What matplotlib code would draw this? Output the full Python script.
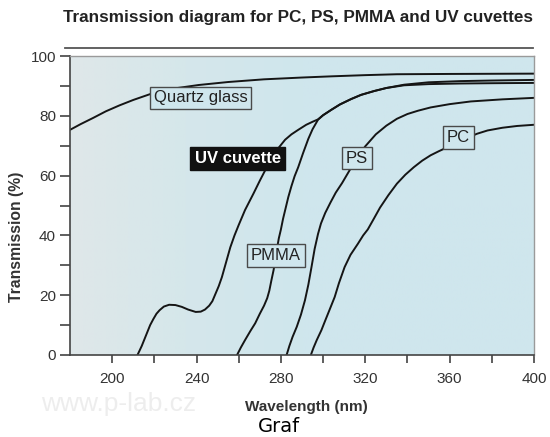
import matplotlib
matplotlib.use("Agg")

import matplotlib.pyplot as plt
import numpy as np
from matplotlib.colors import LinearSegmentedColormap

plt.rcParams["font.family"] = ["Liberation Sans", "DejaVu Sans"]

# valeurs (nm, %)
quartz_nm = [180, 185, 191, 197, 203.5, 210, 219, 230, 241, 255, 272, 290, 304, 320, 335, 360, 400]
quartz_t = [75.3, 77.2, 79.3, 81.5, 83.5, 85.3, 87.5, 89.2, 90.3, 91.3, 92.2, 92.8, 93.2, 93.6, 93.9, 94, 94.1]

uv_nm = [212, 214, 216, 218, 219.5, 221, 222.5, 224.5, 227, 230, 233, 236, 239.6, 242, 244, 246,
         247.5, 249, 250.5, 252, 254, 256, 258, 260, 263, 267, 270, 273.3, 276, 278.8, 282, 285,
         288.2, 292, 295, 297.6, 300, 303.9, 308, 313.3, 318, 324.3, 330, 338.4, 350, 365, 380, 400]
uv_t = [0, 3, 6.5, 10, 12, 13.8, 15, 16.2, 16.8, 16.7, 16.1, 15.2, 14.4, 14.5, 15.2, 16.5,
        18, 20.5, 23, 26, 31, 36, 40, 43.5, 48.5, 54, 58.3, 62.8, 66.3, 69.2, 72, 73.8,
        75.3, 77, 78, 78.8, 80.2, 82, 83.8, 85.6, 87, 88.3, 89.3, 90.4, 91.2, 91.6, 91.8, 92]

pmma_nm = [259.2, 261, 263, 265.5, 267.8, 270, 272, 273.5, 274.5, 275.5, 276.5, 277.3, 278, 279,
           280, 281, 282.2, 283.5, 285, 286.5, 288.2, 290.5, 293, 295, 297.6, 300, 303.9, 308,
           313.3, 318, 324.3, 330, 338.4, 350, 365, 380, 400]
pmma_t = [0, 2.5, 5, 8, 10.6, 13.8, 16.5, 19, 21.5, 25, 28.3, 31.5, 35, 39,
          42, 45.5, 49, 52.8, 56.5, 59.8, 62.8, 67.5, 72.3, 75.5, 78.7, 80.2, 82, 83.8,
          85.6, 87, 88.3, 89.3, 90.2, 90.6, 90.8, 90.9, 91]

ps_nm = [282.7, 284, 285.5, 287.5, 289.5, 291.4, 293, 294.5, 296, 297.6, 299, 301, 303.5, 306,
         309, 313, 316, 320, 325, 330, 335, 340, 345, 351, 360, 370, 385, 400]
ps_t = [0, 3, 6, 9.4, 13.5, 18.3, 23.5, 29.4, 35.5, 40.5, 44, 47.5, 51, 54.3,
        57.5, 62.3, 66, 69.8, 73.8, 76.7, 79, 80.6, 81.7, 82.8, 83.9, 84.8, 85.5, 86]

pc_nm = [294.2, 295.5, 297, 299.2, 301, 303, 305.5, 307.5, 310.2, 313, 316.5, 319, 321.2, 324,
         327, 331, 335, 339, 343, 347, 351, 355, 359, 363, 368, 373, 378, 385, 392, 400]
pc_t = [0, 2.5, 5, 8.3, 11.5, 15, 19.4, 24, 29.4, 33.5, 37.2, 40, 42, 45.5,
        49.3, 53.5, 57.3, 60.3, 62.8, 65, 66.8, 68.2, 69.5, 70.8, 72.5, 74, 75.1, 76, 76.6, 77]

x_ticks = [200, 240, 280, 320, 360, 400]
y_ticks = [0, 20, 40, 60, 80, 100]

fond = "#cfe6ed"
gris = "#333333"

fig = plt.figure(figsize=(5.5, 4.37), dpi=100)
ax = fig.add_axes([70 / 550, 82 / 437, 464 / 550, 299 / 437])

# fond bleu clair, plus pâle à gauche
cmap = LinearSegmentedColormap.from_list("fond", ["#dfe7e9", "#d5e7eb", fond, fond, fond])
ax.imshow(np.linspace(0, 1, 256).reshape(1, -1), cmap=cmap, aspect="auto",
          extent=[180, 400, 0, 100], zorder=0)

for x, y in [(quartz_nm, quartz_t), (uv_nm, uv_t), (pmma_nm, pmma_t), (ps_nm, ps_t), (pc_nm, pc_t)]:
    ax.plot(x, y, color="#151515", lw=1.4, zorder=2, solid_capstyle="round", solid_joinstyle="round")

ax.set_xlim(180, 400)
ax.set_ylim(0, 100)
ax.set_xticks(x_ticks)
ax.set_yticks(y_ticks)
ax.set_xticks(np.arange(220, 400, 40), minor=True)
ax.set_yticks(np.arange(10, 100, 20), minor=True)
ax.tick_params(which="both", direction="out", colors=gris, labelsize=11, width=1.1)
ax.tick_params(axis="y", which="both", length=7)
ax.tick_params(axis="x", which="both", length=6)
ax.tick_params(axis="y", pad=3)
ax.tick_params(axis="x", pad=6)
for s in ["left", "bottom"]:
    ax.spines[s].set_color("#444444")
    ax.spines[s].set_linewidth(1.2)
for s in ["top", "right"]:
    ax.spines[s].set_color("#9a9a9a")
    ax.spines[s].set_linewidth(1.0)

boite = dict(boxstyle="square,pad=0.22", fc=fond, ec="#4a4a4a", lw=1.0)
ax.text(241.9, 86, "Quartz glass", fontsize=12, color="#222222", ha="center", va="center", bbox=boite, zorder=3)
ax.text(277.6, 33.3, "PMMA", fontsize=12, color="#222222", ha="center", va="center", bbox=boite, zorder=3)
ax.text(316, 65.8, "PS", fontsize=12, color="#222222", ha="center", va="center", bbox=boite, zorder=3)
ax.text(364.2, 72.7, "PC", fontsize=12, color="#222222", ha="center", va="center", bbox=boite, zorder=3)
ax.text(259.5, 65.8, "UV cuvette", fontsize=12, fontweight="bold", color="white", ha="center", va="center",
        bbox=dict(boxstyle="square,pad=0.25", fc="#111111", ec="#111111"), zorder=3)

ax.set_xlabel("Wavelength (nm)", fontsize=11, fontweight="bold", color=gris, va="center")
ax.xaxis.set_label_coords((306 - 70) / 464, (355 - 407) / 299)
ax.set_ylabel("Transmission (%)", fontsize=11.3, fontweight="bold", color=gris, va="center")
ax.yaxis.set_label_coords((17 - 70) / 464, (355 - 237) / 299)

fig.text(0.541, 0.959, "Transmission diagram for PC, PS, PMMA and UV cuvettes",
         fontsize=12.3, fontweight="bold", color="#222222", ha="center", va="center")
fig.add_artist(plt.Line2D([65 / 550, 533 / 550], [1 - 48 / 437] * 2, color="#555555", lw=1.3))

# filigrane, juste sous les graduations
fig.text(119 / 550, 1 - 404 / 437, "www.p-lab.cz", fontsize=19, color="#e6e6e6", alpha=0.7,
         ha="center", va="center", zorder=0)

fig.text(279 / 550, 1 - 427 / 437, "Graf", fontsize=14, family="DejaVu Sans", color="black",
         ha="center", va="center")

fig.savefig("out.png", dpi=100)
